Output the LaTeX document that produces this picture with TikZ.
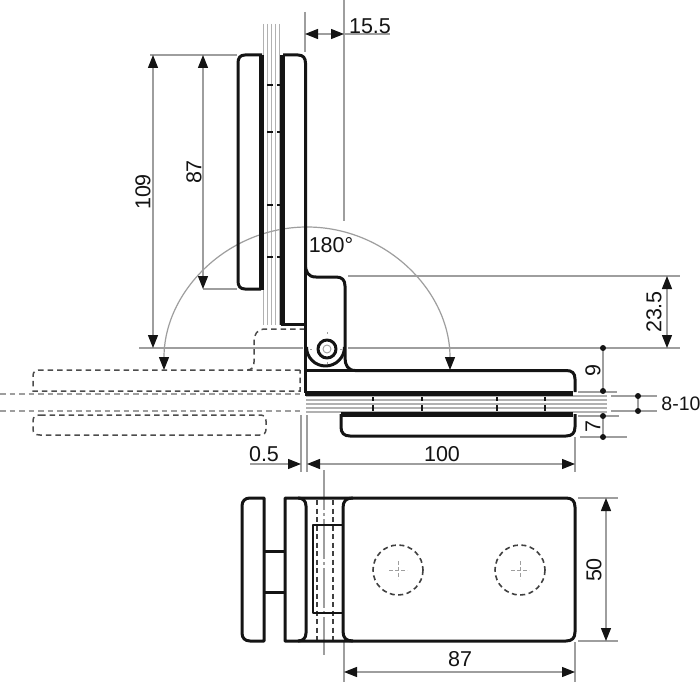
\documentclass[tikz,border=0pt]{standalone}
\usepackage{fontspec}
\setmainfont{Liberation Sans}
\usetikzlibrary{arrows.meta}
\definecolor{dimgray}{gray}{0.62}
\definecolor{inkk}{gray}{0.08}
\tikzset{
 body/.style={draw=inkk,line width=3pt,line join=round},
 dimline/.style={draw=dimgray,line width=1.2pt},
 glassline/.style={draw=dimgray!80,line width=1.1pt},
 thingray/.style={draw=dimgray,line width=0.9pt},
 ghost/.style={draw=black!70,line width=1.5pt,dash pattern=on 5.5pt off 4pt},
 ghostc/.style={draw=dimgray,line width=1.3pt,dash pattern=on 5.5pt off 4pt},
 hid/.style={draw=black!75,line width=1.6pt,dash pattern=on 5pt off 3.5pt},
 arr/.style={draw=dimgray,line width=1.2pt,{Triangle[length=13pt,width=10pt,color=inkk]}-{Triangle[length=13pt,width=10pt,color=inkk]}},
 arrend/.style={draw=dimgray,line width=1.2pt,-{Triangle[length=13pt,width=10pt,color=inkk]}},
 lbl/.style={inner sep=0pt,font=\fontsize{21.5}{21.5}\selectfont,text=inkk},
 dotmark/.style={circle,fill=inkk,inner sep=0pt,minimum size=6pt},
 pinmark/.style={draw=inkk,line width=1.8pt},
}
\begin{document}
\begin{tikzpicture}[x=1pt,y=-1pt]
\useasboundingbox[fill=white] (0,0) rectangle (700,700);
% ---- glass, vertical
\foreach \x in {263.5,267.5,271.5,275.5,279.5} \draw[glassline] (\x,24) -- (\x,325);
% ---- glass, horizontal
\foreach \y in {396,400,404,408,412} \draw[glassline] (306,\y) -- (607,\y);
% ---- extension lines
\draw[dimline] (305,12) -- (305,52);
\draw[dimline] (344,0) -- (344,221);
\draw[dimline] (150,55) -- (237,55);
\draw[dimline] (203,289) -- (237,289);
\draw[dimline] (139,348) -- (303,348);
\draw[dimline] (348,348) -- (680,348);
\draw[dimline] (348,276) -- (680,276);
\draw[dimline] (578,392) -- (617,392);
\draw[dimline] (578,416) -- (619,416);
\draw[dimline] (580,437) -- (627,437);
\draw[dimline] (611,396) -- (657,396);
\draw[dimline] (611,411) -- (657,411);
\draw[dimline] (301,415) -- (301,472);
\draw[dimline] (307,415) -- (307,472);
\draw[dimline] (575,437) -- (575,472);
\draw[dimline] (578,498) -- (618,498);
\draw[dimline] (578,641) -- (618,641);
\draw[dimline] (344,642) -- (344,682);
\draw[dimline] (575,642) -- (575,682);
% ---- swing arc
\draw[arrend] (307,227) arc[start angle=-90,end angle=-180,radius=143];
\draw[arrend] (307,227) arc[start angle=-90,end angle=0,radius=143];
% ---- dimensions
\draw[arr] (305,34) -- (344,34);
\draw[dimline] (344,34) -- (390,34);
\draw[arr] (153,55) -- (153,348);
\draw[arr] (203,55) -- (203,289);
\draw[arr] (667,276) -- (667,348);
\draw[dimline] (603,348) -- (603,392) (603,416) -- (603,437);
\draw[dimline] (638,396) -- (638,411);
\draw[arr] (307,464) -- (575,464);
\draw[arrend] (250,464) -- (301,464);
\draw[arr] (344,672) -- (575,672);
\draw[arr] (606,498) -- (606,641);
\foreach \n/\x/\y in {da/603/348,db/603/391,dc/603/416,dd/603/437,de/638/396,df/638/411}
  \node[dotmark] (\n) at (\x,\y) {};
% ---- ghost (open) position
\draw[ghost] (305,329) -- (266,329) .. controls (257,329) and (254,334) .. (254,342) -- (254,362) .. controls (254,367) and (252,370) .. (247,370);
\draw[ghost] (300,370) -- (40,370) .. controls (35,370) and (33,372) .. (33,376) -- (33,391) -- (300,391) -- (300,370);
\draw[ghost] (40,415) -- (260,415) .. controls (264,415) and (266,417) .. (266,421) -- (266,429) .. controls (266,433) and (264,435) .. (260,435) -- (40,435) .. controls (35,435) and (33,433) .. (33,429) -- (33,421) .. controls (33,417) and (35,415) .. (40,415);
\draw[ghostc] (0,394) -- (300,394);
\draw[ghostc] (0,411) -- (300,411);
% ---- upper clamp plates
\draw[body] (262,55) -- (245,55) .. controls (240,55) and (238,58) .. (238,63) -- (238,281) .. controls (238,286) and (240,289) .. (245,289) -- (261,289);
\fill[inkk] (259,55) rectangle (263.5,290);
\fill[inkk] (279.5,55) rectangle (285,325);
\draw[body] (283,55) -- (298,55) .. controls (303,55) and (305.5,58) .. (305.5,63) -- (305.5,264) .. controls (305.5,272) and (308,277) .. (316,277) -- (336,277) .. controls (342,277) and (345,280) .. (345,286) -- (345,358) .. controls (345,365) and (348,370.5) .. (355,370.5) -- (566,370.5) .. controls (572,370.5) and (575,373) .. (575,379) -- (575,392);
\draw[body] (281,324) -- (305,324);
\draw[body] (305.5,264) -- (305.5,393);
\draw[body] (306,370.5) -- (356,370.5);
\draw[body] (306.5,347) arc[start angle=180,end angle=0,radius=19];
\fill[inkk] (305,391) rectangle (573,395.5);
\fill[inkk] (341,412) rectangle (573,416.5);
\draw[body] (341,414) -- (341,427) .. controls (341,433) and (344,436) .. (350,436) -- (566,436) .. controls (572,436) and (575,433) .. (575,427) -- (575,414);
% ---- pin
\draw[body,fill=white] (327,349) circle[radius=9];
\draw[thingray] (327,349) circle[radius=4];
\draw[thingray,dash pattern=on 2pt off 3pt] (327,332) -- (327,336) (327,362) -- (327,366) (310,349) -- (314,349) (340,349) -- (344,349);
% ---- screw marks in glass
\foreach \y in {85,132,205,257} {\draw[pinmark] (267,\y) -- (273,\y); \draw[pinmark] (277,\y) -- (280,\y);}
\foreach \x in {373,422,497,545} {\draw[pinmark] (\x,397) -- (\x,401); \draw[pinmark] (\x,405) -- (\x,411);}
% ---- bottom view
\draw[dimline,dash pattern=on 40pt off 3pt on 3pt off 3pt] (324,470) -- (324,655);
\draw[hid] (317,500) -- (317,640);
\draw[hid] (333,500) -- (333,640);
\draw[body] (264,498) -- (250,498) .. controls (245,498) and (242,501) .. (242,506) -- (242,633) .. controls (242,638) and (245,641) .. (250,641) -- (264,641) -- cycle;
\draw[body] (264,551) -- (285,551) (264,592) -- (285,592);
\draw[body] (285,498) -- (298,498) .. controls (303,498) and (306,501) .. (306,506) -- (306,633) .. controls (306,638) and (303,641) .. (298,641) -- (285,641) -- cycle;
\draw[body] (298,498) -- (566,498) .. controls (572,498) and (575,501) .. (575,507) -- (575,632) .. controls (575,638) and (572,641) .. (566,641) -- (298,641);
\draw[body] (353,498) .. controls (346,498) and (343,501) .. (343,508) -- (343,631) .. controls (343,638) and (346,641) .. (353,641);
\draw[body,line width=2.2pt] (343,525) -- (313,525) -- (313,613) -- (343,613);
\foreach \n/\x in {ca/398,cb/520} {
  \draw[hid] (\x,570) circle[radius=25];
  \draw[thingray,dash pattern=on 4pt off 2pt on 4pt off 2pt] (\x-9,570) -- (\x+9,570) (\x,561) -- (\x,579);
}
% ---- labels
\node[lbl] (t155) at (370,26) {15.5};
\node[lbl,rotate=90] (t109) at (143,192) {109};
\node[lbl,rotate=90] (t87a) at (194,172) {87};
\node[lbl] (t180) at (331,245) {180°};
\node[lbl,rotate=90] (t235) at (654,312) {23.5};
\node[lbl,rotate=90] (t9) at (593,371) {9};
\node[lbl,rotate=90] (t7) at (593,427) {7};
\node[lbl,font=\fontsize{19.5}{19.5}\selectfont] (t810) at (681,404) {8-10};
\node[lbl] (t05) at (264,454) {0.5};
\node[lbl] (t100) at (442,454) {100};
\node[lbl,rotate=90] (t50) at (594,570) {50};
\node[lbl] (t87b) at (460,659) {87};
\end{tikzpicture}
\end{document}
